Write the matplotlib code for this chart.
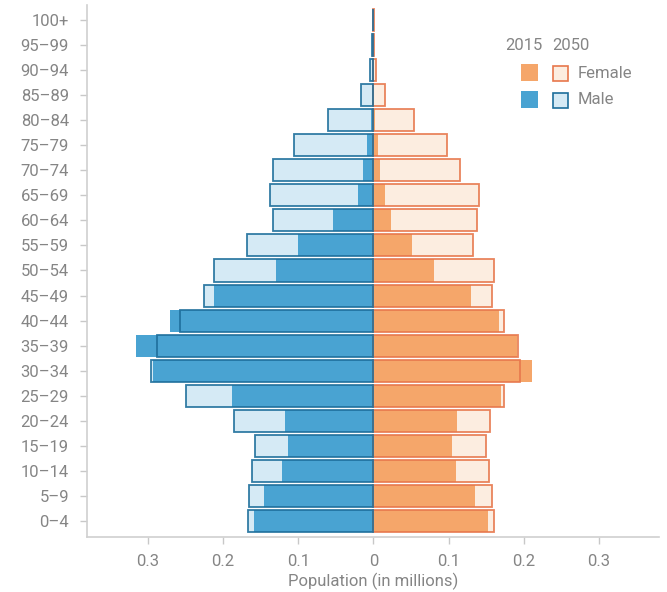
import numpy as np
import matplotlib.pyplot as plt
from matplotlib.patches import Rectangle

#
#   Data
#

ages = ["0\u20134", "5\u20139", "10\u201314", "15\u201319", "20\u201324", "25\u201329",
        "30\u201334", "35\u201339", "40\u201344", "45\u201349", "50\u201354", "55\u201359",
        "60\u201364", "65\u201369", "70\u201374", "75\u201379", "80\u201384", "85\u201389",
        "90\u201394", "95\u201399", "100+"]

male_2015 = [0.159, 0.145, 0.122, 0.114, 0.118, 0.188, 0.293, 0.316, 0.270, 0.212,
             0.130, 0.100, 0.054, 0.021, 0.014, 0.009, 0.003, 0.002, 0.002, 0.001, 0.0005]
male_2050 = [0.167, 0.165, 0.161, 0.157, 0.185, 0.249, 0.296, 0.288, 0.257, 0.226,
             0.212, 0.168, 0.134, 0.138, 0.133, 0.106, 0.060, 0.017, 0.005, 0.002, 0.001]
female_2015 = [0.152, 0.135, 0.110, 0.104, 0.111, 0.170, 0.211, 0.191, 0.167, 0.130,
               0.080, 0.051, 0.024, 0.016, 0.009, 0.006, 0.002, 0.001, 0.001, 0.0005, 0.0003]
female_2050 = [0.160, 0.158, 0.154, 0.150, 0.155, 0.174, 0.195, 0.192, 0.174, 0.158,
               0.160, 0.132, 0.138, 0.140, 0.115, 0.098, 0.054, 0.015, 0.004, 0.001, 0.0005]

xticks = [-0.3, -0.2, -0.1, 0, 0.1, 0.2, 0.3]
xtick_labels = ["0.3", "0.2", "0.1", "0", "0.1", "0.2", "0.3"]

#
#   Styles
#

BLUE = "#49a3d2"
BLUE_LIGHT = "#d5eaf5"
BLUE_EDGE = "#1d6e9b"
ORANGE = "#f5a66a"
ORANGE_LIGHT = "#fcede0"
ORANGE_EDGE = "#e7774c"
GREY = "#858585"
FS = 12

plt.rcParams["font.family"] = ["Roboto", "DejaVu Sans"]

#
#   Main
#

fig = plt.figure(figsize=(6.67, 5.92), dpi=100)
ax = fig.add_axes([87 / 667, 55 / 592, 572 / 667, 532 / 592])

y = np.arange(len(ages))
h = 0.88
m15 = -np.array(male_2015)
m50 = -np.array(male_2050)

# 2050 light fill
ax.barh(y, m50, h, color=BLUE_LIGHT, linewidth=0, zorder=1)
ax.barh(y, female_2050, h, color=ORANGE_LIGHT, linewidth=0, zorder=1)
# 2015 solid
ax.barh(y, m15, h, color=BLUE, linewidth=0, zorder=2)
ax.barh(y, female_2015, h, color=ORANGE, linewidth=0, zorder=2)
# 2050 outline
ax.barh(y, female_2050, h, facecolor="none", edgecolor=ORANGE_EDGE, linewidth=1.3, alpha=0.9, zorder=3)
ax.barh(y, m50, h, facecolor="none", edgecolor=BLUE_EDGE, linewidth=1.3, alpha=0.9, zorder=4)

ax.set_xlim(-0.381, 0.38)
ax.set_ylim(-0.64, 20.6)
ax.set_yticks(y)
ax.set_yticklabels(ages)
ax.set_xticks(xticks)
ax.set_xticklabels(xtick_labels)
ax.set_xlabel("Population (in millions)", color=GREY, fontsize=FS, labelpad=3)

for s in ["top", "right"]:
    ax.spines[s].set_visible(False)
for s in ["left", "bottom"]:
    ax.spines[s].set_color("#d0d0d0")
    ax.spines[s].set_linewidth(1.2)
ax.tick_params(axis="both", colors="#c8c8c8", labelcolor=GREY, labelsize=FS, length=5, width=1)
ax.tick_params(axis="x", pad=7)
ax.tick_params(axis="y", pad=8)

# Legend
tr = fig.transFigure
fig.text(505 / 667, 1 - 45 / 592, "2015", color=GREY, fontsize=FS, va="center", ha="left")
fig.text(552 / 667, 1 - 45 / 592, "2050", color=GREY, fontsize=FS, va="center", ha="left")
sq = 17
rows = [(73, ORANGE, ORANGE_LIGHT, ORANGE_EDGE, "Female"), (100, BLUE, BLUE_LIGHT, BLUE_EDGE, "Male")]
for yc, c, cl, ce, lab in rows:
    fig.patches.append(Rectangle((521 / 667, 1 - (yc + sq / 2) / 592), sq / 667, sq / 592,
                                 transform=tr, facecolor=c, edgecolor="none"))
    fig.patches.append(Rectangle((553 / 667, 1 - (yc + sq / 2 - 1) / 592), (sq - 2) / 667, (sq - 2) / 592,
                                 transform=tr, facecolor=cl, edgecolor=ce, linewidth=1.2))
    fig.text(578 / 667, 1 - yc / 592, lab, color=GREY, fontsize=FS, va="center", ha="left")

fig.savefig("out.png", dpi=100)
